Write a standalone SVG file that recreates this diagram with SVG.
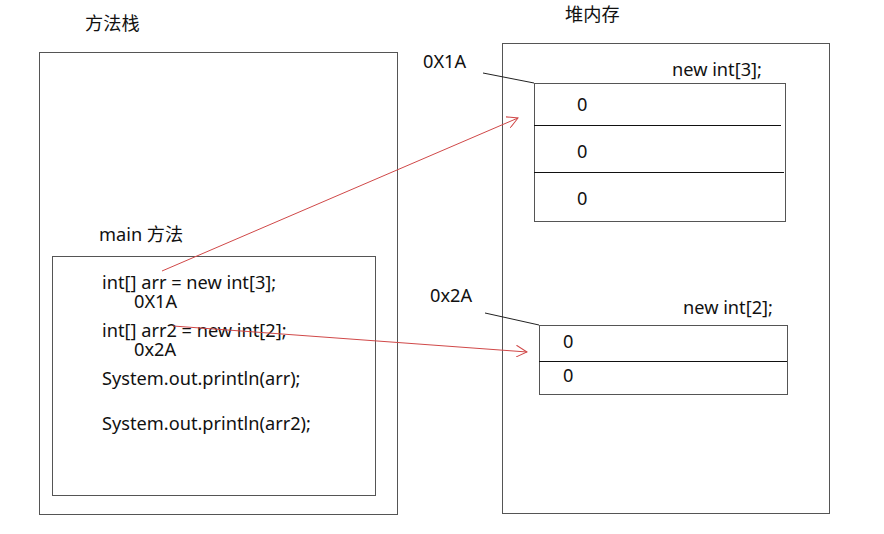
<svg xmlns="http://www.w3.org/2000/svg" width="884" height="534" viewBox="0 0 884 534">
<style>
text{font-family:"Noto Sans","Noto Sans CJK SC",sans-serif;font-size:18.2px;fill:#111}
.box{fill:none;stroke:#555;stroke-width:1}
.div{stroke:#111;stroke-width:1}
.ptr{stroke:#222;stroke-width:1;fill:none}
.arrow{stroke:#d04848;stroke-width:1;fill:none}
</style>
<defs>
<marker id="oa" viewBox="0 0 12 12" refX="11" refY="6" markerWidth="12" markerHeight="12" markerUnits="userSpaceOnUse" orient="auto">
<path d="M0,0 L11,6 L0,12" fill="none" stroke="#d04848" stroke-width="1"/>
</marker>
</defs>
<rect width="884" height="534" fill="#fff"/>
<g id="stack">
<text x="85" y="30">方法栈</text>
<rect class="box" x="39.5" y="52.5" width="358" height="462"/>
</g>
<g id="main">
<text x="99" y="241">main 方法</text>
<rect class="box" x="52.5" y="256.5" width="323" height="239"/>
<text x="102" y="289">int[] arr = new int[3];</text>
<text x="134" y="308">0X1A</text>
<text x="102" y="337">int[] arr2 = new int[2];</text>
<text x="134" y="356">0x2A</text>
<text x="102" y="385">System.out.println(arr);</text>
<text x="102" y="430">System.out.println(arr2);</text>
</g>
<g id="heap">
<text x="565" y="21">堆内存</text>
<rect class="box" x="502.5" y="43.5" width="327" height="470"/>
</g>
<g id="arr1">
<text x="423" y="68">0X1A</text>
<text x="672" y="76">new int[3];</text>
<rect class="box" x="534.5" y="83.5" width="251" height="138"/>
<line class="div" x1="534" y1="125.5" x2="781" y2="125.5"/>
<line class="div" x1="534" y1="172.5" x2="784" y2="172.5"/>
<text x="577" y="111">0</text>
<text x="577" y="158">0</text>
<text x="577" y="205">0</text>
</g>
<g id="arr2">
<text x="430" y="302">0x2A</text>
<text x="683" y="314">new int[2];</text>
<rect class="box" x="539.5" y="325.5" width="248" height="69"/>
<line class="div" x1="539" y1="361.5" x2="787" y2="361.5"/>
<text x="563" y="348">0</text>
<text x="563" y="382">0</text>
</g>
<g id="connectors">
<line class="ptr" x1="483" y1="73" x2="534" y2="83"/>
<line class="ptr" x1="485" y1="313" x2="539" y2="325"/>
<line class="arrow" x1="162" y1="271" x2="518" y2="118" marker-end="url(#oa)"/>
<line class="arrow" x1="173" y1="326" x2="527" y2="352" marker-end="url(#oa)"/>
</g>
</svg>
